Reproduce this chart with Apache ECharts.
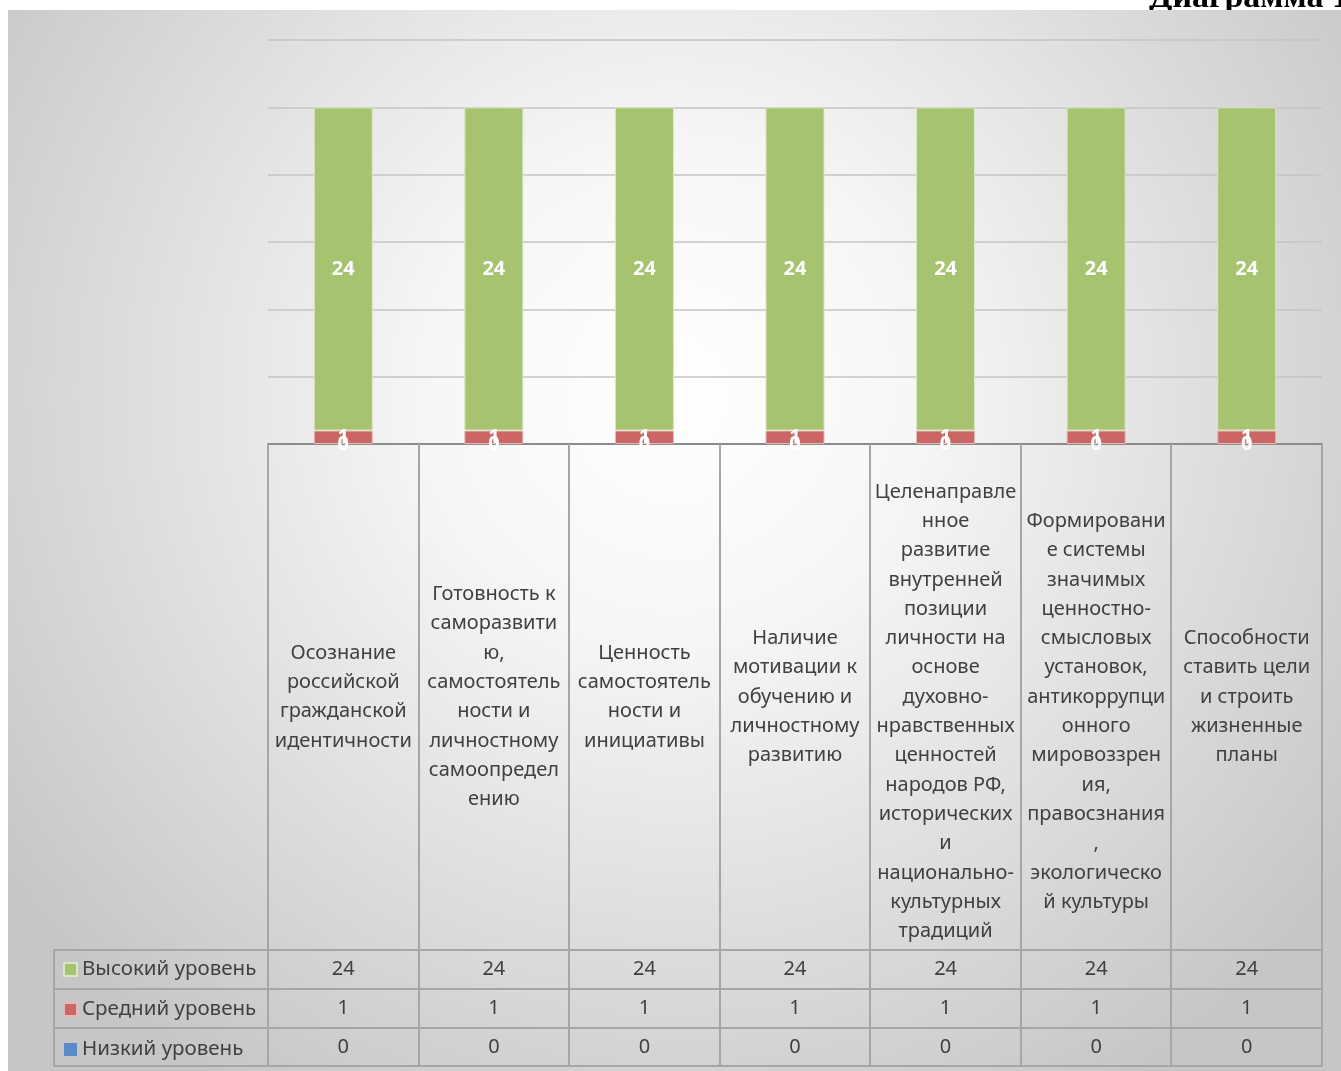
<!DOCTYPE html>
<html>
<head>
<meta charset="utf-8">
<script src="https://cdn.jsdelivr.net/npm/echarts@6/dist/echarts.min.js"></script>
<style>
html,body{margin:0;padding:0;background:#fff;}
#c{width:1341px;height:1071px;}
</style>
</head>
<body>
<div id="c"></div>
<script>
const categories = [
  "Осознание\nроссийской\nгражданской\nидентичности",
  "Готовность к\nсаморазвити\nю,\nсамостоятель\nности и\nличностному\nсамоопредел\nению",
  "Ценность\nсамостоятель\nности и\nинициативы",
  "Наличие\nмотивации к\nобучению и\nличностному\nразвитию",
  "Целенаправле\nнное\nразвитие\nвнутренней\nпозиции\nличности на\nоснове\nдуховно-\nнравственных\nценностей\nнародов РФ,\nисторических\nи\nнационально-\nкультурных\nтрадиций",
  "Формировани\nе системы\nзначимых\nценностно-\nсмысловых\nустановок,\nантикоррупци\nонного\nмировоззрен\nия,\nправосзнания\n,\nэкологическо\nй культуры",
  "Способности\nставить цели\nи строить\nжизненные\nпланы"
];
const seriesNames = ["Высокий уровень", "Средний уровень", "Низкий уровень"];
const highValues = [24, 24, 24, 24, 24, 24, 24];
const midValues = [1, 1, 1, 1, 1, 1, 1];
const lowValues = [0, 0, 0, 0, 0, 0, 0];
const yTicks = { min: 0, max: 30, interval: 5 };
const titleText = "Диаграмма 1";

const GREEN = '#A6C36F', RED = '#CC6664', BLUE = '#5B8AC6';
const FONT = 'Noto Sans';
const TXT = '#404040';
const LINE = '#a6a6a6';

const chart = echarts.init(document.getElementById('c'));

const gridL = 268, gridR = 1322, axisY = 444;
const colW = (gridR - gridL) / categories.length;
const rowY = [950, 989, 1028, 1066];

const graphics = [];
graphics.push({type:'text', z:-20, left:1149, top:-19,
  style:{text:titleText, font:'bold 34px "Liberation Serif"', fill:'#000'}});
graphics.push({type:'rect', z:-10, shape:{x:8,y:10,width:1333,height:1061},
  style:{fill:new echarts.graphic.RadialGradient(0.5,0.36,0.78,[
    {offset:0,color:'#ffffff'},{offset:0.3,color:'#f6f6f6'},{offset:1,color:'#c6c6c6'}])}});
for (let i = 0; i <= categories.length; i++) {
  const x = Math.round(gridL + i * colW);
  graphics.push({type:'line', z:5, shape:{x1:x,y1:axisY,x2:x,y2:rowY[3]}, style:{stroke:LINE,lineWidth:2}});
}
graphics.push({type:'line', z:5, shape:{x1:54,y1:rowY[0],x2:54,y2:rowY[3]}, style:{stroke:LINE,lineWidth:2}});
rowY.forEach(y => graphics.push({type:'line', z:5, shape:{x1:54,y1:y,x2:gridR,y2:y}, style:{stroke:LINE,lineWidth:2}}));

function valueAxis(arr, centerY) {
  return {
    type:'category', data:categories, position:'bottom', offset:0, gridIndex:0,
    axisLine:{show:false}, axisTick:{show:false}, splitLine:{show:false},
    axisLabel:{interval:0, margin:centerY - axisY, verticalAlign:'middle',
      fontFamily:FONT, fontSize:20, color:TXT,
      formatter:(v, i) => String(arr[i])}
  };
}

const labelStyle = {show:true, position:'inside', color:'#fff', fontWeight:'bold', fontSize:20, fontFamily:FONT};

chart.setOption({
  animation:false,
  graphic: graphics,
  grid:{left:gridL, right:1341-gridR, top:40, bottom:1071-axisY},
  legend:{
    orient:'vertical', left:63, top:959, padding:0,
    data:seriesNames, icon:'rect', itemWidth:13, itemHeight:13, itemGap:19,
    textStyle:{fontFamily:FONT, fontSize:20.5, color:TXT, lineHeight:20}
  },
  xAxis:[
    {
      type:'category', data:categories, position:'bottom',
      axisLine:{lineStyle:{color:'#8c8c8c', width:2}}, axisTick:{show:false},
      axisLabel:{interval:0, margin:697 - axisY, verticalAlign:'middle', align:'center',
        fontFamily:FONT, fontSize:20, color:TXT, lineHeight:29.3,
        formatter:(v) => v.split('\n').length >= 14 ? '\n' + v : v}
    },
    valueAxis(highValues, 969),
    valueAxis(midValues, 1008),
    valueAxis(lowValues, 1047)
  ],
  yAxis:{
    type:'value', min:yTicks.min, max:yTicks.max, interval:yTicks.interval,
    axisLabel:{show:false}, axisLine:{show:false}, axisTick:{show:false},
    splitLine:{lineStyle:{color:'#c4c4c4', width:1.5}}
  },
  series:[
    {name:seriesNames[2], type:'bar', stack:'a', data:lowValues, barWidth:59,
      itemStyle:{color:BLUE}, label:labelStyle},
    {name:seriesNames[1], type:'bar', stack:'a', data:midValues, barWidth:59,
      itemStyle:{color:RED, borderColor:'#e6b9b8', borderWidth:1}, label:labelStyle},
    {name:seriesNames[0], type:'bar', stack:'a', data:highValues, barWidth:59,
      itemStyle:{color:GREEN, borderColor:'#dbe7c6', borderWidth:1}, label:labelStyle}
  ]
});
</script>
</body>
</html>
